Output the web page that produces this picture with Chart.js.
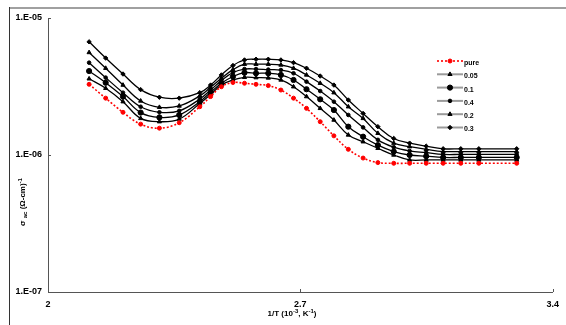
<!DOCTYPE html>
<html lang="en">
<head>
    <meta charset="UTF-8">
    <title>ac conductivity vs 1/T</title>
    <script src="https://cdn.jsdelivr.net/npm/chart.js"></script>
    <style>
        html, body { margin: 0; padding: 0; background: #fff; }
        #wrap { position: relative; width: 566px; height: 325px; }
    </style>
</head>
<body>
    <div id="wrap">
        <canvas id="acChart" width="566" height="325"></canvas>
    </div>
    <script>
        // 1/T values (10^-3 K^-1)
        var invT = [2.114, 2.160, 2.208, 2.257, 2.309, 2.364, 2.421, 2.451, 2.481, 2.513, 2.545, 2.577, 2.611, 2.646,
                    2.681, 2.717, 2.755, 2.793, 2.833, 2.874, 2.915, 2.959, 3.003, 3.049, 3.096, 3.145, 3.195, 3.300];

        // sigma ac (ohm-cm)^-1
        var pure = [3.28e-6, 2.6e-6, 2.05e-6, 1.68e-6, 1.57e-6, 1.72e-6, 2.25e-6, 2.67e-6, 3.15e-6, 3.38e-6, 3.34e-6, 3.28e-6, 3.21e-6, 2.98e-6,
                    2.6e-6, 2.19e-6, 1.75e-6, 1.38e-6, 1.10e-6, 0.95e-6, 0.88e-6, 0.87e-6, 0.87e-6, 0.87e-6, 0.87e-6, 0.87e-6, 0.87e-6, 0.87e-6];
        var x005 = [3.6e-6, 3.07e-6, 2.45e-6, 1.85e-6, 1.75e-6, 1.83e-6, 2.38e-6, 2.77e-6, 3.24e-6, 3.53e-6, 3.69e-6, 3.67e-6, 3.65e-6, 3.53e-6,
                    3.15e-6, 2.67e-6, 2.19e-6, 1.8e-6, 1.4e-6, 1.25e-6, 1.12e-6, 1.0e-6, 0.92e-6, 0.92e-6, 0.92e-6, 0.92e-6, 0.92e-6, 0.92e-6];
        var x01 = [4.1e-6, 3.37e-6, 2.67e-6, 2.04e-6, 1.88e-6, 1.96e-6, 2.45e-6, 2.87e-6, 3.34e-6, 3.74e-6, 3.99e-6, 3.95e-6, 3.95e-6, 3.84e-6,
                   3.53e-6, 3.02e-6, 2.55e-6, 2.13e-6, 1.61e-6, 1.36e-6, 1.18e-6, 1.06e-6, 1.0e-6, 0.98e-6, 0.96e-6, 0.96e-6, 0.96e-6, 0.96e-6];
        var x04 = [4.72e-6, 3.67e-6, 2.85e-6, 2.25e-6, 2.05e-6, 2.1e-6, 2.56e-6, 2.98e-6, 3.49e-6, 4.0e-6, 4.24e-6, 4.24e-6, 4.2e-6, 4.17e-6,
                   3.95e-6, 3.43e-6, 2.93e-6, 2.45e-6, 1.96e-6, 1.59e-6, 1.29e-6, 1.14e-6, 1.07e-6, 1.04e-6, 1.01e-6, 1.01e-6, 1.01e-6, 1.01e-6];
        var x02 = [5.6e-6, 4.3e-6, 3.24e-6, 2.48e-6, 2.23e-6, 2.28e-6, 2.7e-6, 3.12e-6, 3.63e-6, 4.2e-6, 4.6e-6, 4.6e-6, 4.6e-6, 4.54e-6,
                   4.3e-6, 3.84e-6, 3.34e-6, 2.85e-6, 2.25e-6, 1.85e-6, 1.44e-6, 1.22e-6, 1.15e-6, 1.10e-6, 1.06e-6, 1.06e-6, 1.06e-6, 1.06e-6];
        var x03 = [6.7e-6, 5.1e-6, 3.9e-6, 3.0e-6, 2.64e-6, 2.6e-6, 2.85e-6, 3.24e-6, 3.84e-6, 4.5e-6, 4.94e-6, 5.0e-6, 5.0e-6, 4.94e-6,
                   4.72e-6, 4.3e-6, 3.77e-6, 3.24e-6, 2.52e-6, 2.01e-6, 1.61e-6, 1.32e-6, 1.22e-6, 1.16e-6, 1.11e-6, 1.11e-6, 1.11e-6, 1.11e-6];

        var seriesNames = ['pure', '0.05', '0.1', '0.4', '0.2', '0.3'];
        var xTicks = [2, 2.7, 3.4];
        var yTicks = [1e-7, 1e-6, 1e-5];

        var FONT = '"Liberation Sans", Arial, sans-serif';

        function pts(ys) {
            return ys.map(function (v, i) { return { x: invT[i], y: v }; });
        }

        function ds(label, ys, style, size, color, dash) {
            return {
                label: label,
                data: pts(ys),
                borderColor: color,
                backgroundColor: color,
                pointBackgroundColor: color,
                pointBorderColor: color,
                pointStyle: style,
                pointRadius: size,
                pointBorderWidth: 1,
                borderWidth: dash ? 1.6 : 1.3,
                borderDash: dash || [],
                tension: 0.4,
                fill: false
            };
        }

        var datasets = [
            ds(seriesNames[0], pure, 'circle', 2, '#ff0000', [2, 2]),
            ds(seriesNames[1], x005, 'triangle', 2.4, '#000', null),
            ds(seriesNames[2], x01, 'circle', 2.6, '#000', null),
            ds(seriesNames[3], x04, 'circle', 1.8, '#000', null),
            ds(seriesNames[4], x02, 'triangle', 2.4, '#000', null),
            ds(seriesNames[5], x03, 'rectRot', 2.2, '#000', null)
        ];

        // draws text pieces (with sub/superscripts) centred on x,y
        function richText(ctx, parts, x, y) {
            var total = 0;
            parts.forEach(function (p) {
                ctx.font = 'bold ' + p.size + 'px ' + FONT;
                p.w = ctx.measureText(p.t).width;
                total += p.w;
            });
            var cx = x - total / 2;
            ctx.textBaseline = 'middle';
            ctx.textAlign = 'left';
            parts.forEach(function (p) {
                ctx.font = 'bold ' + p.size + 'px ' + FONT;
                ctx.fillText(p.t, cx, y + (p.dy || 0));
                cx += p.w;
            });
        }

        var decorPlugin = {
            id: 'decor',
            beforeDraw: function (chart) {
                var ctx = chart.ctx;
                ctx.save();
                ctx.fillStyle = '#fff';
                ctx.fillRect(0, 0, chart.width, chart.height);
                // outer frame
                ctx.strokeStyle = '#a0a0a0';
                ctx.lineWidth = 2;
                ctx.beginPath();
                ctx.moveTo(9, 8);
                ctx.lineTo(566, 8);
                ctx.stroke();
                ctx.strokeStyle = '#333';
                ctx.lineWidth = 1;
                ctx.beginPath();
                ctx.moveTo(9.5, 7);
                ctx.lineTo(9.5, 325);
                ctx.stroke();
                ctx.restore();
            },
            afterDraw: function (chart) {
                var ctx = chart.ctx;
                var xs = chart.scales.x, ys = chart.scales.y;
                var area = chart.chartArea;
                ctx.save();
                // inside tick marks
                ctx.strokeStyle = '#555';
                ctx.lineWidth = 1;
                xTicks.forEach(function (v) {
                    var px = Math.round(xs.getPixelForValue(v)) + 0.5;
                    ctx.beginPath();
                    ctx.moveTo(px, area.bottom);
                    ctx.lineTo(px, area.bottom - 3);
                    ctx.stroke();
                });
                yTicks.forEach(function (v) {
                    var py = Math.round(ys.getPixelForValue(v)) + 0.5;
                    ctx.beginPath();
                    ctx.moveTo(area.left, py);
                    ctx.lineTo(area.left + 3, py);
                    ctx.stroke();
                });

                ctx.fillStyle = '#000';
                // x title
                richText(ctx, [
                    { t: '1/T (10', size: 8 },
                    { t: '-3', size: 6, dy: -3 },
                    { t: ', K', size: 8 },
                    { t: '-1', size: 6, dy: -3 },
                    { t: ')', size: 8 }
                ], 292, 314);

                // y title
                ctx.save();
                ctx.translate(23, 202);
                ctx.rotate(-Math.PI / 2);
                richText(ctx, [
                    { t: 'σ ', size: 8 },
                    { t: 'ac', size: 6, dy: 2.5 },
                    { t: ' (Ω-cm)', size: 8 },
                    { t: '-1', size: 6, dy: -3 }
                ], 0, 0);
                ctx.restore();

                // legend
                var lx0 = 437, lx1 = 463, ly = 61, step = 13.3;
                chart.data.datasets.forEach(function (d, i) {
                    var y = ly + i * step;
                    var isRed = d.borderColor === '#ff0000';
                    ctx.save();
                    ctx.strokeStyle = isRed ? '#ff0000' : '#9a9a9a';
                    ctx.lineWidth = isRed ? 1.6 : 2;
                    ctx.setLineDash(isRed ? [2, 2] : []);
                    ctx.beginPath();
                    ctx.moveTo(lx0, y);
                    ctx.lineTo(lx1, y);
                    ctx.stroke();
                    ctx.restore();
                    ctx.save();
                    ctx.fillStyle = d.backgroundColor;
                    ctx.strokeStyle = d.borderColor;
                    ctx.lineWidth = 1;
                    Chart.helpers.drawPoint(ctx, { pointStyle: d.pointStyle, radius: d.pointRadius, borderWidth: 1, rotation: 0 }, (lx0 + lx1) / 2, y);
                    ctx.restore();
                    ctx.fillStyle = '#000';
                    ctx.font = 'bold 7px ' + FONT;
                    ctx.textAlign = 'left';
                    ctx.textBaseline = 'middle';
                    ctx.fillText(d.label, lx1 + 1, y + 2);
                });
                ctx.restore();
            }
        };

        var ctx = document.getElementById('acChart').getContext('2d');
        var chart = new Chart(ctx, {
            type: 'line',
            data: { datasets: datasets },
            plugins: [decorPlugin],
            options: {
                responsive: false,
                animation: false,
                layout: { padding: { top: 18, right: 8, left: 0, bottom: 0 } },
                plugins: {
                    legend: { display: false },
                    tooltip: { enabled: false }
                },
                scales: {
                    x: {
                        type: 'linear',
                        min: 2,
                        max: 3.4,
                        afterFit: function (s) { s.height = 33; },
                        afterBuildTicks: function (s) {
                            s.ticks = xTicks.map(function (v) { return { value: v }; });
                        },
                        grid: { display: false, drawTicks: false },
                        border: { display: true, color: '#555', width: 1 },
                        ticks: {
                            padding: 7,
                            color: '#000',
                            font: { family: FONT, size: 9, weight: 'bold' },
                            maxRotation: 0,
                            callback: function (v) { return String(v); }
                        }
                    },
                    y: {
                        type: 'logarithmic',
                        min: 1e-7,
                        max: 1e-5,
                        afterFit: function (s) { s.width = 48; },
                        afterBuildTicks: function (s) {
                            s.ticks = yTicks.map(function (v) { return { value: v }; });
                        },
                        grid: { display: false, drawTicks: false },
                        border: { display: true, color: '#555', width: 1 },
                        ticks: {
                            padding: 6,
                            color: '#000',
                            font: { family: FONT, size: 9, weight: 'bold' },
                            callback: function (v) {
                                var e = Math.round(Math.log10(v));
                                return '1.E-0' + Math.abs(e);
                            }
                        }
                    }
                }
            }
        });
    </script>
</body>
</html>
